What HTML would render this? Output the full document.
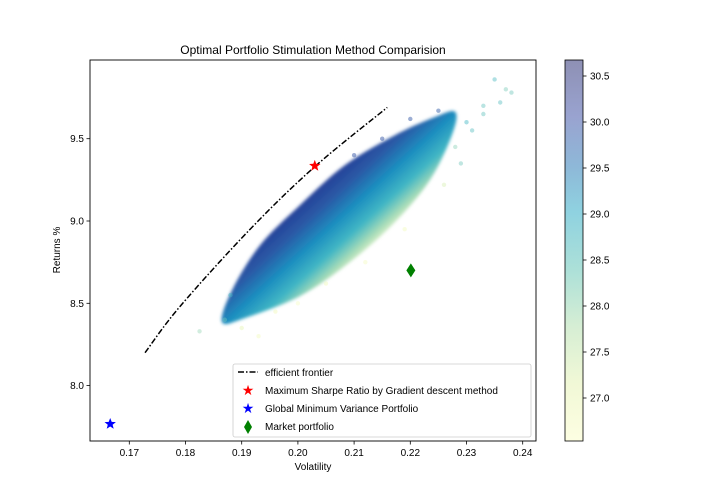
<!DOCTYPE html>
<html><head><meta charset="utf-8"><style>
html,body{margin:0;padding:0;background:#fff;}
svg{display:block;font-family:"Liberation Sans","DejaVu Sans",sans-serif;}
</style></head><body>
<svg id="chart" width="720" height="504" viewBox="0 0 720 504" xmlns="http://www.w3.org/2000/svg">
<defs>
<linearGradient id="cloudGrad" gradientUnits="userSpaceOnUse" x1="305" y1="185" x2="368" y2="254">
<stop offset="0" stop-color="#24318f"/>
<stop offset="0.3" stop-color="#2a5aa6"/>
<stop offset="0.52" stop-color="#1d8fc0"/>
<stop offset="0.72" stop-color="#41b6c4"/>
<stop offset="0.88" stop-color="#a5dbb8"/>
<stop offset="1" stop-color="#eef8cf"/>
</linearGradient>
<linearGradient id="cbGrad" x1="0" y1="1" x2="0" y2="0">
<stop offset="0" stop-color="#fdfee2"/>
<stop offset="0.15" stop-color="#f1f8d6"/>
<stop offset="0.3" stop-color="#d6eed4"/>
<stop offset="0.45" stop-color="#ace0d8"/>
<stop offset="0.6" stop-color="#8fd2e0"/>
<stop offset="0.72" stop-color="#8eb8d8"/>
<stop offset="0.85" stop-color="#99a3d0"/>
<stop offset="1" stop-color="#8e90b4"/>
</linearGradient>
<filter id="soft" x="-10%" y="-10%" width="120%" height="120%"><feGaussianBlur stdDeviation="1.6"/></filter>
<clipPath id="plotClip"><rect x="90" y="60" width="446" height="381"/></clipPath>
</defs>
<text x="313" y="54" text-anchor="middle" font-size="12">Optimal Portfolio Stimulation Method Comparision</text>
<g id="plot" clip-path="url(#plotClip)"></g>
<rect x="90" y="60" width="446" height="381" fill="none" stroke="#000" stroke-width="0.9"/>
<g id="axes" font-size="10"></g>
<text x="313" y="470" text-anchor="middle" font-size="10">Volatility</text>
<text x="60" y="250" text-anchor="middle" font-size="10" transform="rotate(-90 60 250)">Returns %</text>
<g>
<rect x="233" y="364" width="298" height="73" rx="2" fill="#fff" fill-opacity="0.85" stroke="#ccc" stroke-width="0.8"/>
<line x1="238" y1="372" x2="258" y2="372" stroke="#000" stroke-width="1.5" stroke-dasharray="6,2,1.5,2"/>
<text x="265" y="376" font-size="10">efficient frontier</text>
<text x="248" y="395" font-size="14" fill="#f00" text-anchor="middle">★</text>
<text x="265" y="394" font-size="10">Maximum Sharpe Ratio by Gradient descent method</text>
<text x="248" y="413" font-size="14" fill="#00f" text-anchor="middle">★</text>
<text x="265" y="412" font-size="10">Global Minimum Variance Portfolio</text>
<polygon points="248,420 252,427 248,434 244,427" fill="#008000"/>
<text x="265" y="430" font-size="10">Market portfolio</text>
</g>
<rect x="565" y="60" width="18" height="381" fill="url(#cbGrad)" stroke="#000" stroke-width="0.8"/>
<g id="cbticks" font-size="10"></g>
</svg>
<script>
const xTicks=[0.17,0.18,0.19,0.20,0.21,0.22,0.23,0.24];
const xTickLabels=["0.17","0.18","0.19","0.20","0.21","0.22","0.23","0.24"];
const yTicks=[8.0,8.5,9.0,9.5];
const yTickLabels=["8.0","8.5","9.0","9.5"];
const cbTicks=[27.0,27.5,28.0,28.5,29.0,29.5,30.0,30.5];
const cbTickLabels=["27.0","27.5","28.0","28.5","29.0","29.5","30.0","30.5"];
const frontierVol=[0.1728,0.1790,0.1915,0.2030,0.2159];
const frontierRet=[8.20,8.48,8.95,9.33,9.69];
const cloudUpperVol=[0.1865,0.1883,0.1933,0.2004,0.2084,0.2173,0.2244,0.2280];
const cloudUpperRet=[8.386,8.581,8.854,9.097,9.340,9.522,9.632,9.662];
const cloudLowerVol=[0.1906,0.2004,0.2093,0.2173,0.2235,0.2274];
const cloudLowerRet=[8.411,8.544,8.751,8.994,9.249,9.522];
const outlierVol=[0.1825,0.1870,0.1900,0.1930,0.1880,0.1960,0.2000,0.2050,0.2120,0.2190,0.2260,0.2290,0.2310,0.2330,0.2350,0.2370,0.2380,0.2300,0.2250,0.2200,0.2150,0.2100,0.2280,0.2330,0.2360];
const outlierRet=[8.33,8.40,8.35,8.30,8.55,8.45,8.50,8.62,8.75,8.95,9.22,9.35,9.55,9.70,9.86,9.80,9.78,9.60,9.67,9.62,9.50,9.40,9.45,9.65,9.72];
const outlierShare=[28.3,28.6,27.6,27.2,29.0,27.3,27.0,27.2,27.1,27.2,27.8,28.6,28.8,28.7,28.9,28.5,28.6,29.0,30.2,30.3,30.4,30.4,28.4,28.7,28.8];
const maxSharpe=[0.2030,9.335];
const gmv=[0.1666,7.767];
const market=[0.2201,8.70];

const NS="http://www.w3.org/2000/svg";
const xs=v=>129.3+(v-0.17)*5620;
const ys=r=>221-(r-9)*164.6;
const cs=c=>398-(c-27)*92;
function mk(t,a,p){const e=document.createElementNS(NS,t);for(const k in a)e.setAttribute(k,a[k]);p.appendChild(e);return e;}
const plot=document.getElementById('plot');
const axes=document.getElementById('axes');
xTicks.forEach((v,i)=>{
 const x=xs(v);
 const t=mk('line',{x1:x,y1:441,x2:x,y2:444.5,stroke:'#000','stroke-width':0.8},axes);
 
 
 const l=mk('text',{x:x,y:456,'text-anchor':'middle'},axes);l.textContent=xTickLabels[i];
 
 
});
yTicks.forEach((v,i)=>{
 const y=ys(v);
 const t=mk('line',{x1:86.5,y1:y,x2:90,y2:y,stroke:'#000','stroke-width':0.8},axes);
 
 
 const l=mk('text',{x:84,y:y+3.5,'text-anchor':'end'},axes);l.textContent=yTickLabels[i];
 
 
});
const cbg=document.getElementById('cbticks');
cbTicks.forEach((v,i)=>{
 const y=cs(v);
 const t=mk('line',{x1:583,y1:y,x2:586.5,y2:y,stroke:'#000','stroke-width':0.8},cbg);
 
 
 const l=mk('text',{x:590,y:y+3.5},cbg);l.textContent=cbTickLabels[i];
 
 
});
// cloud
let pts=[];
cloudUpperVol.forEach((v,i)=>pts.push([xs(v),ys(cloudUpperRet[i])]));
for(let i=cloudLowerVol.length-1;i>=0;i--)pts.push([xs(cloudLowerVol[i]),ys(cloudLowerRet[i])]);
function closedSpline(p){
 const n=p.length;let d=`M${p[0][0]},${p[0][1]}`;
 for(let i=0;i<n;i++){const p0=p[(i-1+n)%n],p1=p[i],p2=p[(i+1)%n],p3=p[(i+2)%n];
  d+=` C${p1[0]+(p2[0]-p0[0])/6},${p1[1]+(p2[1]-p0[1])/6} ${p2[0]-(p3[0]-p1[0])/6},${p2[1]-(p3[1]-p1[1])/6} ${p2[0]},${p2[1]}`;}
 return d+'Z';
}
const cloud=mk('path',{d:closedSpline(pts),fill:'url(#cloudGrad)',filter:'url(#soft)'},plot);


function shareColor(c){
 const stops=[[26.5,[255,255,217]],[27.5,[237,248,177]],[28.0,[199,233,180]],[28.5,[127,205,187]],[29.0,[65,182,196]],[29.5,[29,145,192]],[30.0,[34,94,168]],[30.7,[37,52,148]]];
 for(let i=0;i<stops.length-1;i++){if(c<=stops[i+1][0]){const t=(c-stops[i][0])/(stops[i+1][0]-stops[i][0]);const a=stops[i][1],b=stops[i+1][1];return `rgb(${a.map((x,k)=>Math.round(x+(b[k]-x)*Math.max(0,t))).join(',')})`;}}
 return 'rgb(37,52,148)';
}
outlierVol.forEach((v,i)=>{
 const c=mk('circle',{cx:xs(v),cy:ys(outlierRet[i]),r:2.2,fill:shareColor(outlierShare[i]),'fill-opacity':0.45},plot);
 
 
});
// frontier
const fp=frontierVol.map((v,i)=>[xs(v),ys(frontierRet[i])]);
let d=`M${fp[0][0]},${fp[0][1]}`;
for(let i=0;i<fp.length-1;i++){const p0=fp[Math.max(0,i-1)],p1=fp[i],p2=fp[i+1],p3=fp[Math.min(fp.length-1,i+2)];
 d+=` C${p1[0]+(p2[0]-p0[0])/6},${p1[1]+(p2[1]-p0[1])/6} ${p2[0]-(p3[0]-p1[0])/6},${p2[1]-(p3[1]-p1[1])/6} ${p2[0]},${p2[1]}`;}
const fr=mk('path',{d:d,fill:'none',stroke:'#000','stroke-width':1.5,'stroke-dasharray':'6,2,1.5,2'},plot);


function star(cx,cy,R,col,name){
 let p=[];for(let k=0;k<10;k++){const a=-Math.PI/2+k*Math.PI/5;const rr=k%2?R*0.42:R;p.push((cx+rr*Math.cos(a)).toFixed(1)+','+(cy+rr*Math.sin(a)).toFixed(1));}
 const s=mk('polygon',{points:p.join(' '),fill:col},plot);
 
 
}
star(xs(maxSharpe[0]),ys(maxSharpe[1]),6,'#f00','max-sharpe-star');
star(xs(gmv[0]),ys(gmv[1]),6,'#00f','gmv-star');
const mx=xs(market[0]),my=ys(market[1]);
const dm=mk('polygon',{points:`${mx},${my-7} ${mx+4.5},${my} ${mx},${my+7} ${mx-4.5},${my}`,fill:'#008000'},plot);


</script>
</body></html>
